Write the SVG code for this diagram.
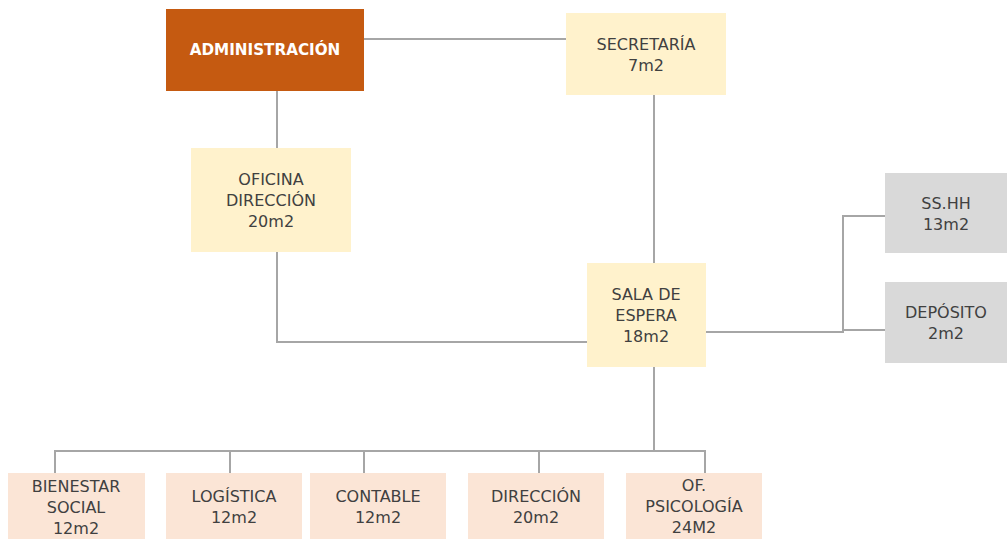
<svg xmlns="http://www.w3.org/2000/svg" width="1007" height="539" viewBox="0 0 1007 539">
<style>
.t{font-family:"DejaVu Sans","Liberation Sans",sans-serif;font-size:16px;fill:#404040;text-anchor:middle}
.tb{font-family:"DejaVu Sans","Liberation Sans",sans-serif;font-size:15.2px;font-weight:bold;fill:#ffffff;text-anchor:middle}
.y{fill:#FFF2CC}
.p{fill:#FBE5D6}
.g{fill:#D9D9D9}
.c{fill:none;stroke:#A6A6A6;stroke-width:2}
</style>
<rect width="1007" height="539" fill="#ffffff"/>
<g id="connectors">
<path class="c" d="M364,39 H566"/>
<path class="c" d="M277,91 V148"/>
<path class="c" d="M277,252 V342 H587"/>
<path class="c" d="M654,95 V263"/>
<path class="c" d="M706,332 H843 V216 H885"/>
<path class="c" d="M843,330 H885"/>
<path class="c" d="M654,367 V451"/>
<path class="c" d="M55,473 V451 H705 V473"/>
<path class="c" d="M230,451 V473"/>
<path class="c" d="M364,451 V473"/>
<path class="c" d="M539,451 V473"/>
</g>
<g id="administracion">
<rect x="166" y="9" width="198" height="82" fill="#C55A11"/>
<text class="tb" x="265" y="55">ADMINISTRACIÓN</text>
</g>
<g id="secretaria">
<rect class="y" x="566" y="13" width="160" height="82"/>
<text class="t" x="646" y="50">SECRETARÍA</text>
<text class="t" x="646" y="71">7m2</text>
</g>
<g id="oficina-direccion">
<rect class="y" x="191" y="148" width="160" height="104"/>
<text class="t" x="271" y="185">OFICINA</text>
<text class="t" x="271" y="206">DIRECCIÓN</text>
<text class="t" x="271" y="227">20m2</text>
</g>
<g id="sala-espera">
<rect class="y" x="587" y="263" width="119" height="104"/>
<text class="t" x="646" y="300">SALA DE</text>
<text class="t" x="646" y="321">ESPERA</text>
<text class="t" x="646" y="342">18m2</text>
</g>
<g id="sshh">
<rect class="g" x="885" y="173" width="122" height="80"/>
<text class="t" x="946" y="209">SS.HH</text>
<text class="t" x="946" y="230">13m2</text>
</g>
<g id="deposito">
<rect class="g" x="885" y="282" width="122" height="81"/>
<text class="t" x="946" y="318">DEPÓSITO</text>
<text class="t" x="946" y="339">2m2</text>
</g>
<g id="bienestar">
<rect class="p" x="8" y="473" width="137" height="70"/>
<text class="t" x="76" y="492">BIENESTAR</text>
<text class="t" x="76" y="513">SOCIAL</text>
<text class="t" x="76" y="534">12m2</text>
</g>
<g id="logistica">
<rect class="p" x="166" y="473" width="136" height="70"/>
<text class="t" x="234" y="502">LOGÍSTICA</text>
<text class="t" x="234" y="523">12m2</text>
</g>
<g id="contable">
<rect class="p" x="310" y="473" width="136" height="70"/>
<text class="t" x="378" y="502">CONTABLE</text>
<text class="t" x="378" y="523">12m2</text>
</g>
<g id="direccion">
<rect class="p" x="468" y="473" width="136" height="70"/>
<text class="t" x="536" y="502">DIRECCIÓN</text>
<text class="t" x="536" y="523">20m2</text>
</g>
<g id="psicologia">
<rect class="p" x="626" y="473" width="136" height="70"/>
<text class="t" x="694" y="491">OF.</text>
<text class="t" x="694" y="512">PSICOLOGÍA</text>
<text class="t" x="694" y="533">24M2</text>
</g>
</svg>
